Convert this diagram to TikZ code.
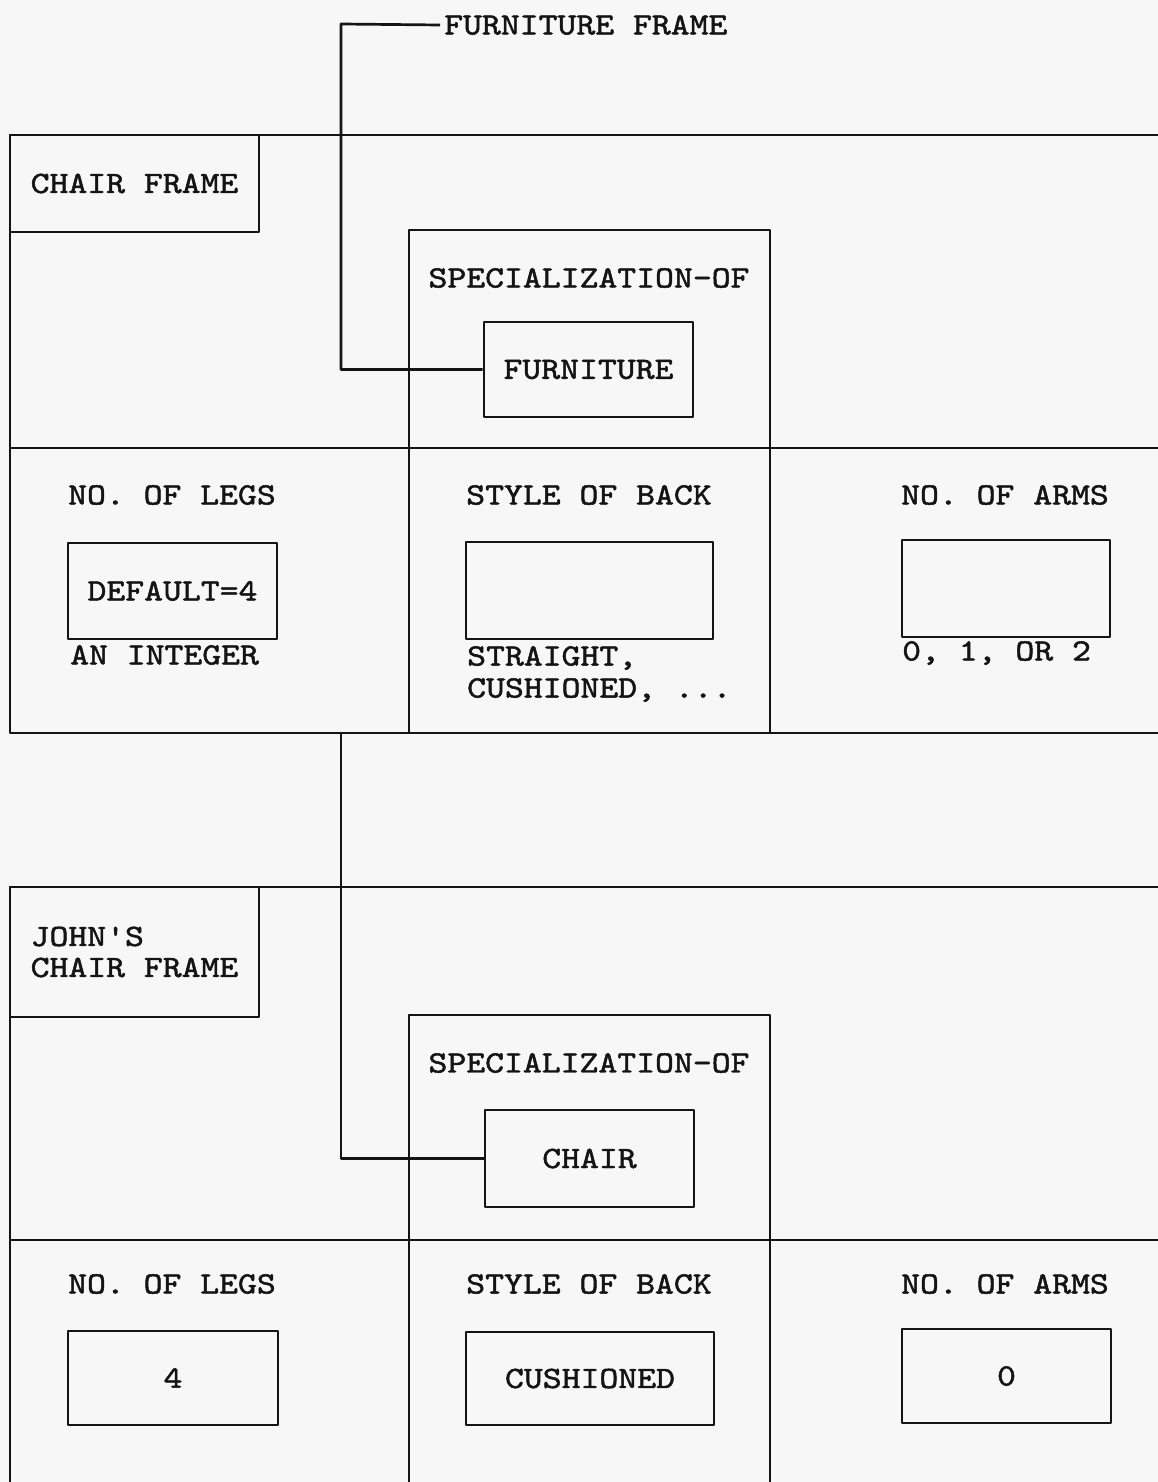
\documentclass[tikz,border=0pt]{standalone}
\usepackage{fontspec}
\setmonofont{lmmono10-regular.otf}[FakeStretch=1.16, FakeBold=1.6]
\definecolor{paper}{RGB}{247,247,247}
\definecolor{ink}{RGB}{20,20,20}
\tikzset{
  x=1pt, y=-1pt,
  ln/.style={draw=ink, line width=2.7pt, line join=round},
  txt/.style={inner sep=0pt, font=\ttfamily\fontsize{31}{31.5}\selectfont, text=ink},
  slotbox/.style={ln, txt, rectangle},
}
\begin{document}
\begin{tikzpicture}
\fill[paper] (0,0) rectangle (1158,1482);
\useasboundingbox (0,0) rectangle (1158,1482);

% ---------- upper frame (CHAIR FRAME) ----------
\draw[ln] (1175,135) -- (10,135) -- (10,733) -- (1175,733);
\draw[ln] (10,448) -- (1175,448);
\draw[ln] (409,733) -- (409,230) -- (770,230) -- (770,733);
\node[slotbox, minimum width=249pt, minimum height=97pt] (cf) at (134.5,183.5) {CHAIR FRAME};

\node[txt] (spec1) at (589,278) {SPECIALIZATION-OF};
\node[slotbox, minimum width=209pt, minimum height=95pt] (furn) at (588.5,369.5) {FURNITURE};

\node[txt, anchor=west, inner xsep=4pt] (ff) at (440,25) {FURNITURE FRAME};
\coordinate (c1) at (341,24);
\draw[ln] (furn.west) -| (c1) -- (ff.west);

% slots (upper)
\node[txt] (legs1) at (172,495) {NO. OF LEGS};
\node[txt] (back1) at (589,495) {STYLE OF BACK};
\node[txt] (arms1) at (1005,495) {NO. OF ARMS};
\node[slotbox, minimum width=209pt, minimum height=96pt] (legsv1) at (172.5,591) {DEFAULT=4};
\node[slotbox, minimum width=247pt, minimum height=97pt] (backv1) at (589.5,590.5) {};
\node[slotbox, minimum width=208pt, minimum height=97pt] (armsv1) at (1006,588.5) {};
\node[txt, anchor=west] (legsr1) at (70,655) {AN INTEGER};
\node[txt, anchor=north west, align=left, font=\ttfamily\fontsize{31}{32}\selectfont] (backr1) at (467,646) {STRAIGHT,\\CUSHIONED, ...};
\node[txt, anchor=west] (armsr1) at (902,653) {0, 1, OR 2};

% ---------- connector between frames ----------
\coordinate (c2) at (341,733);

% ---------- lower frame (JOHN'S CHAIR FRAME) ----------
\draw[ln] (1175,887) -- (10,887) -- (10,1500);
\draw[ln] (10,1240) -- (1175,1240);
\draw[ln] (409,1500) -- (409,1015) -- (770,1015) -- (770,1500);
\node[slotbox, minimum width=249pt, minimum height=130pt, align=left, font=\ttfamily\fontsize{31}{31}\selectfont] (jcf) at (134.5,952) {JOHN'S\\CHAIR FRAME};

\node[txt] (spec2) at (589,1063) {SPECIALIZATION-OF};
\node[slotbox, minimum width=209pt, minimum height=97pt] (chair) at (589.5,1158.5) {CHAIR};
\draw[ln] (c2) |- (chair.west);

% slots (lower)
\node[txt] (legs2) at (172,1284) {NO. OF LEGS};
\node[txt] (back2) at (589,1284) {STYLE OF BACK};
\node[txt] (arms2) at (1005,1284) {NO. OF ARMS};
\node[slotbox, minimum width=210pt, minimum height=94pt] (legsv2) at (173,1378) {4};
\node[slotbox, minimum width=248pt, minimum height=93pt] (backv2) at (590,1378.5) {CUSHIONED};
\node[slotbox, minimum width=209pt, minimum height=94pt] (armsv2) at (1006.5,1376) {0};
\end{tikzpicture}
\end{document}
